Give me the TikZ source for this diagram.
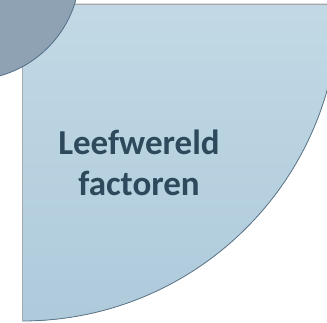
\documentclass[tikz,border=0pt]{standalone}
\usepackage{fontspec}
\setmainfont{Carlito}
\begin{document}
\begin{tikzpicture}[x=1pt,y=-1pt,
  sectorfill/.style={top color=sectortop,bottom color=sectorbottom},
  labeltext/.style={font=\bfseries\fontsize{35}{41}\selectfont,text=labelcol,inner sep=0pt,anchor=base}]
\definecolor{sectortop}{HTML}{C2D9E5}
\definecolor{sectorbottom}{HTML}{AECADB}
\definecolor{edgegrey}{HTML}{A6A9AC}
\definecolor{arcline}{HTML}{5E7689}
\definecolor{discfill}{HTML}{8EA2B3}
\definecolor{discline}{HTML}{52708A}
\definecolor{labelcol}{HTML}{2E495C}
\useasboundingbox (0,0) rectangle (327,323);
\begin{scope}
  \clip (0,0) rectangle (327,323);
  % quarter-disc segment
  \fill[sectorfill] (22,4) -- (339,4) arc[start angle=0,end angle=90,radius=317] -- cycle;
  \draw[arcline,line width=0.8pt] (339,4) arc[start angle=0,end angle=90,radius=317];
  \draw[edgegrey,line width=1.2pt] (22.5,321) -- (22.5,4.5) -- (339,4.5);
  % disc in the corner
  \fill[discfill] (-30,-30) circle[radius=110];
  \draw[discline,line width=0.8pt] (-30,-30) circle[radius=110];
\end{scope}
\node[labeltext] (lbla) at (139,155) {Leefwereld};
\node[labeltext] (lblb) at (139,196) {factoren};
\end{tikzpicture}
\end{document}
